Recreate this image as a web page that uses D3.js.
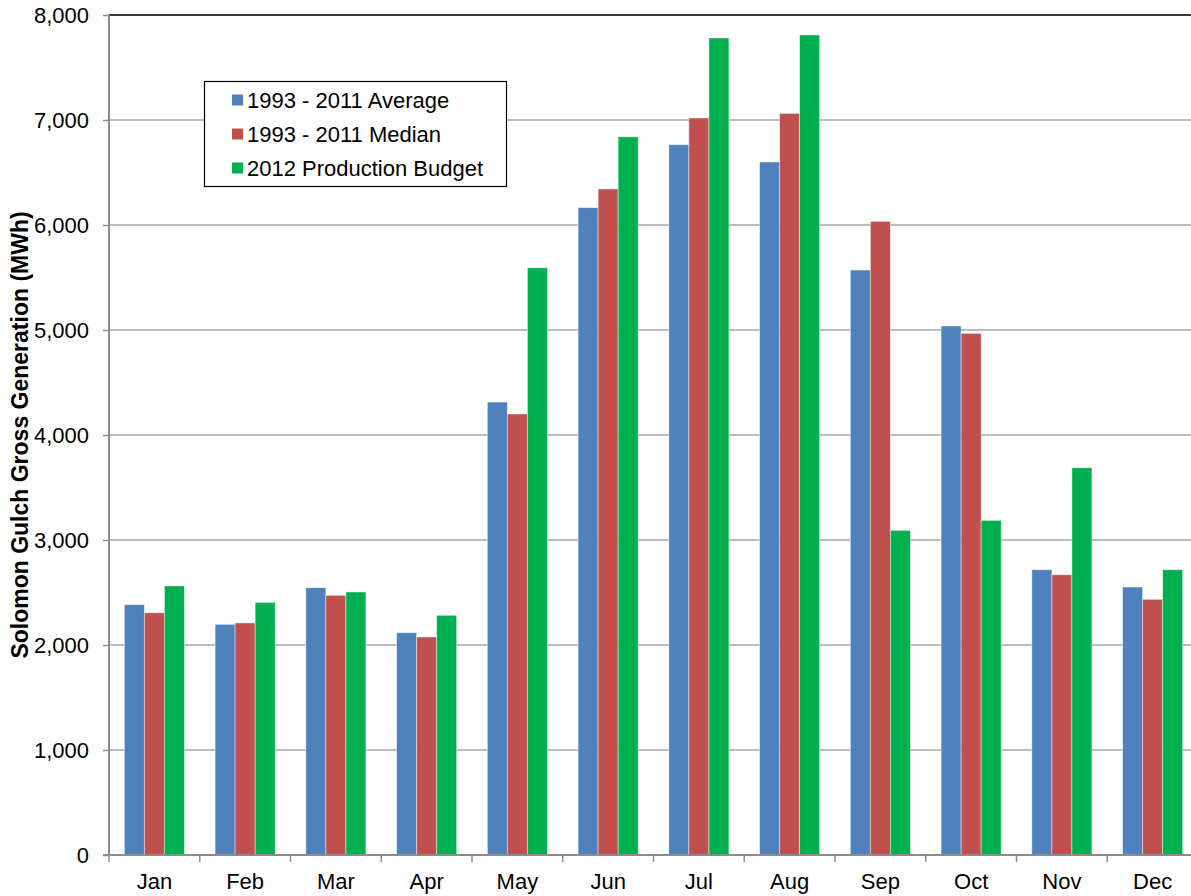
<!DOCTYPE html>
<html>
<head>
<meta charset="utf-8">
<script src="https://cdn.jsdelivr.net/npm/d3@7"></script>
<style>
  body { margin: 0; background: #fff; }
  svg { display: block; font-family: 'Liberation Sans', Arial, sans-serif; }
</style>
</head>
<body>
<svg id="chart" width="1191" height="896"></svg>
<script>
// data
const months = ['Jan', 'Feb', 'Mar', 'Apr', 'May', 'Jun', 'Jul', 'Aug', 'Sep', 'Oct', 'Nov', 'Dec']
const seriesNames = ['1993 - 2011 Average', '1993 - 2011 Median', '2012 Production Budget']
const average = [2384, 2197, 2546, 2117, 4314, 6165, 6765, 6600, 5571, 5038, 2717, 2552]
const median  = [2307, 2210, 2473, 2076, 4200, 6343, 7019, 7063, 6035, 4968, 2669, 2435]
const budget  = [2562, 2406, 2505, 2283, 5593, 6840, 7781, 7810, 3092, 3187, 3688, 2717]
const yTicks  = [0, 1000, 2000, 3000, 4000, 5000, 6000, 7000, 8000]
const colors  = ['#4F81BD', '#C0504D', '#00B050']

const series = [average, median, budget]

const svg = d3.select('#chart')

// plot box (right edge runs past the window, as in the reference)
const plotL = 109, plotR = 1198, plotT = 15, plotB = 855
const fontFam = "'Liberation Sans', Arial, sans-serif"

const x = d3.scaleBand()
  .domain(months)
  .range([plotL, plotR])

const bw = x.bandwidth()
const groupW = bw * 0.662
const x1 = d3.scaleBand()
  .domain(d3.range(series.length))
  .range([(bw - groupW) / 2, (bw + groupW) / 2])

const y = d3.scaleLinear()
  .domain([0, 8000])
  .range([plotB, plotT])

// gridlines
svg.append('g')
  .selectAll('line')
  .data(yTicks.filter(t => t > 0 && t < 8000))
  .enter()
  .append('line')
  .attr('x1', plotL)
  .attr('x2', plotR)
  .attr('y1', d => y(d))
  .attr('y2', d => y(d))
  .attr('stroke', '#a6a6a6')
  .attr('stroke-width', 1.5)

// top border line
svg.append('line')
  .attr('x1', plotL).attr('x2', plotR)
  .attr('y1', y(8000)).attr('y2', y(8000))
  .attr('stroke', '#3a3a3a')
  .attr('stroke-width', 2)

// bars
const groups = svg.append('g')
  .selectAll('g')
  .data(months)
  .enter()
  .append('g')
  .attr('transform', d => `translate(${x(d)},0)`)

groups.selectAll('rect')
  .data((m, i) => series.map((s, k) => ({ k, v: s[i] })))
  .enter()
  .append('rect')
  .attr('x', d => x1(d.k))
  .attr('width', x1.bandwidth())
  .attr('y', d => y(d.v))
  .attr('height', d => y(0) - y(d.v))
  .attr('fill', d => colors[d.k])
  .attr('stroke', 'rgba(255,255,255,0.55)')
  .attr('stroke-width', 0.8)

// y axis
const yAxis = svg.append('g')
  .attr('transform', `translate(${plotL},0)`)
  .call(d3.axisLeft(y).tickValues(yTicks).tickFormat(d3.format(',')).tickSize(6).tickPadding(14))
yAxis.select('.domain').attr('stroke', '#8c8c8c').attr('stroke-width', 2)
  .attr('d', `M0,${plotT}V${plotB + 1}`)
yAxis.selectAll('.tick line').attr('stroke', '#8c8c8c').attr('stroke-width', 1.5)
yAxis.selectAll('.tick text').attr('font-size', '22px').attr('fill', '#000')
  .attr('font-family', fontFam)

// x axis
const xAxis = svg.append('g')
  .attr('transform', `translate(0,${plotB})`)
  .call(d3.axisBottom(x).tickSize(0).tickPadding(18))
xAxis.select('.domain').attr('stroke', '#8c8c8c').attr('stroke-width', 2)
  .attr('d', `M${plotL - 6},0H${plotR}`)
xAxis.selectAll('.tick text').attr('font-size', '22px').attr('fill', '#000')
  .attr('font-family', fontFam)

// category boundary ticks
svg.append('g')
  .selectAll('line')
  .data(months)
  .enter()
  .append('line')
  .attr('x1', d => x(d))
  .attr('x2', d => x(d))
  .attr('y1', plotB)
  .attr('y2', plotB + 7)
  .attr('stroke', '#8c8c8c')
  .attr('stroke-width', 1.5)

// y axis title
svg.append('text')
  .attr('transform', `translate(28,${(plotT + plotB) / 2}) rotate(-90)`)
  .attr('text-anchor', 'middle')
  .attr('font-size', '23px')
  .attr('font-weight', 'bold')
  .attr('font-family', fontFam)
  .text('Solomon Gulch Gross Generation (MWh)')

// legend
const legend = svg.append('g')
legend.append('rect')
  .attr('x', 204.5).attr('y', 81.5)
  .attr('width', 302).attr('height', 105)
  .attr('fill', '#fff')
  .attr('stroke', '#000')
  .attr('stroke-width', 1.2)

const item = legend.selectAll('g')
  .data(seriesNames)
  .enter()
  .append('g')
  .attr('transform', (d, i) => `translate(232,${100 + i * 34})`)

item.append('rect')
  .attr('x', 0).attr('y', -5.5)
  .attr('width', 11).attr('height', 11)
  .attr('fill', (d, i) => colors[i])

item.append('text')
  .attr('x', 15)
  .attr('y', 8)
  .attr('font-size', '22px')
  .attr('font-family', fontFam)
  .text(d => d)
</script>
</body>
</html>
